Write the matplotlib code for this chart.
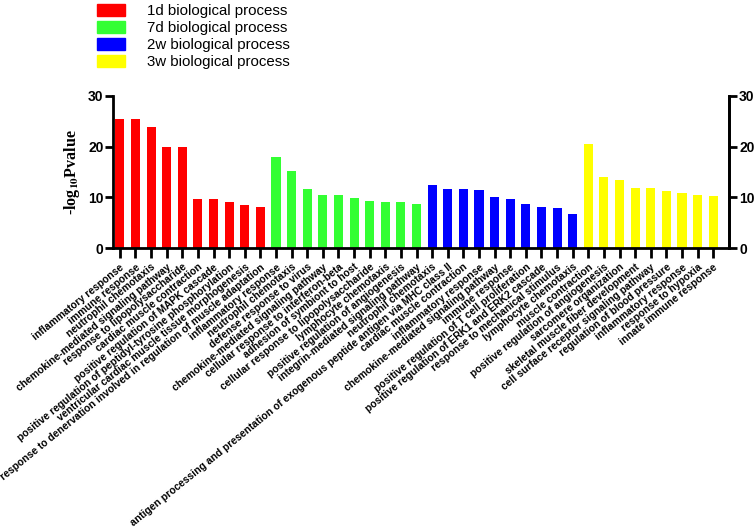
import matplotlib.pyplot as plt
import matplotlib.patches as mpatches
import numpy as np

plt.rcParams['font.family'] = ['Liberation Sans', 'DejaVu Sans']
plt.rcParams['mathtext.fontset'] = 'stix'

# GO terms per time point
terms_1d = ['inflammatory response', 'immune response', 'neutrophil chemotaxis',
            'chemokine-mediated signaling pathway', 'response to lipopolysaccharide',
            'cardiac muscle contraction', 'positive regulation of MAPK cascade',
            'positive regulation of peptidyl-tyrosine phosphorylation',
            'ventricular cardiac muscle tissue morphogenesis',
            'response to denervation involved in regulation of muscle adaptation']
vals_1d = [25.5, 25.5, 23.8, 20.0, 19.9, 9.7, 9.6, 9.1, 8.4, 8.0]

terms_7d = ['inflammatory response', 'neutrophil chemotaxis', 'defense response to virus',
            'chemokine-mediated signaling pathway', 'cellular response to interferon-beta',
            'adhesion of symbiont to host', 'cellular response to lipopolysaccharide',
            'lymphocyte chemotaxis', 'positive regulation of angiogenesis',
            'integrin-mediated signaling pathway']
vals_7d = [17.9, 15.2, 11.7, 10.4, 10.4, 9.9, 9.2, 9.1, 9.0, 8.7]

terms_2w = ['neutrophil chemotaxis',
            'antigen processing and presentation of exogenous peptide antigen via MHC class II',
            'cardiac muscle contraction', 'inflammatory response',
            'chemokine-mediated signaling pathway', 'immune response',
            'positive regulation of T cell proliferation',
            'positive regulation of ERK1 and ERK2 cascade',
            'response to mechanical stimulus', 'lymphocyte chemotaxis']
vals_2w = [12.4, 11.7, 11.6, 11.5, 10.1, 9.7, 8.7, 8.1, 7.8, 6.8]

terms_3w = ['muscle contraction', 'positive regulation of angiogenesis',
            'sarcomere organization', 'skeletal muscle fiber development',
            'cell surface receptor signaling pathway', 'regulation of blood pressure',
            'inflammatory response', 'response to hypoxia', 'innate immune response']
vals_3w = [20.5, 14.0, 13.5, 11.9, 11.8, 11.2, 10.9, 10.5, 10.2]

groups = ['1d biological process', '7d biological process',
          '2w biological process', '3w biological process']
colors = ['#ff0000', '#33ff33', '#0000ff', '#ffff00']

fig = plt.figure(figsize=(7.55, 5.3), dpi=100)
ax = fig.add_axes([0.150, 0.532, 0.816, 0.287])

terms = []
start = 0
for t, v, c in zip([terms_1d, terms_7d, terms_2w, terms_3w],
                   [vals_1d, vals_7d, vals_2w, vals_3w], colors):
    x = np.arange(start, start + len(v))
    ax.bar(x, v, width=0.58, color=c)
    terms += t
    start += len(v)

ax.set_xlim(-0.42, len(terms) - 1 + 1.03)
ax.set_ylim(0, 30)
ax.set_yticks([0, 10, 20, 30])
ax.set_xticks(np.arange(len(terms)))
ax.set_xticklabels(terms, rotation=39, ha='right', va='top', rotation_mode='anchor',
                   fontsize=7.4, fontweight='bold')
ax.tick_params(axis='x', length=7, width=2, pad=3)
ax.tick_params(axis='y', length=6, width=2, labelsize=10, pad=1)
for lab in ax.get_yticklabels():
    lab.set_fontweight('bold')

ax.spines['top'].set_visible(False)
for s in ['left', 'bottom', 'right']:
    ax.spines[s].set_linewidth(2)

ax2 = ax.twinx()
ax2.set_ylim(0, 30)
ax2.set_yticks([0, 10, 20, 30])
ax2.tick_params(axis='y', length=6, width=2, labelsize=10, pad=1)
for lab in ax2.get_yticklabels():
    lab.set_fontweight('bold')
for s in ['top', 'left', 'bottom']:
    ax2.spines[s].set_visible(False)
ax2.spines['right'].set_linewidth(2)

ax.set_ylabel(r'-log$_{\mathbf{10}}$Pvalue', fontfamily='Liberation Serif',
              fontweight='bold', fontsize=11.5, labelpad=4)

handles = [mpatches.Patch(color=c) for c in colors]
fig.legend(handles, groups, loc='upper left', bbox_to_anchor=(0.114, 1.012),
           frameon=False, fontsize=10.8, handlelength=1.9, handleheight=0.8,
           labelspacing=0.2, handletextpad=1.45, borderpad=0.2)

fig.savefig('out.png', dpi=100)
